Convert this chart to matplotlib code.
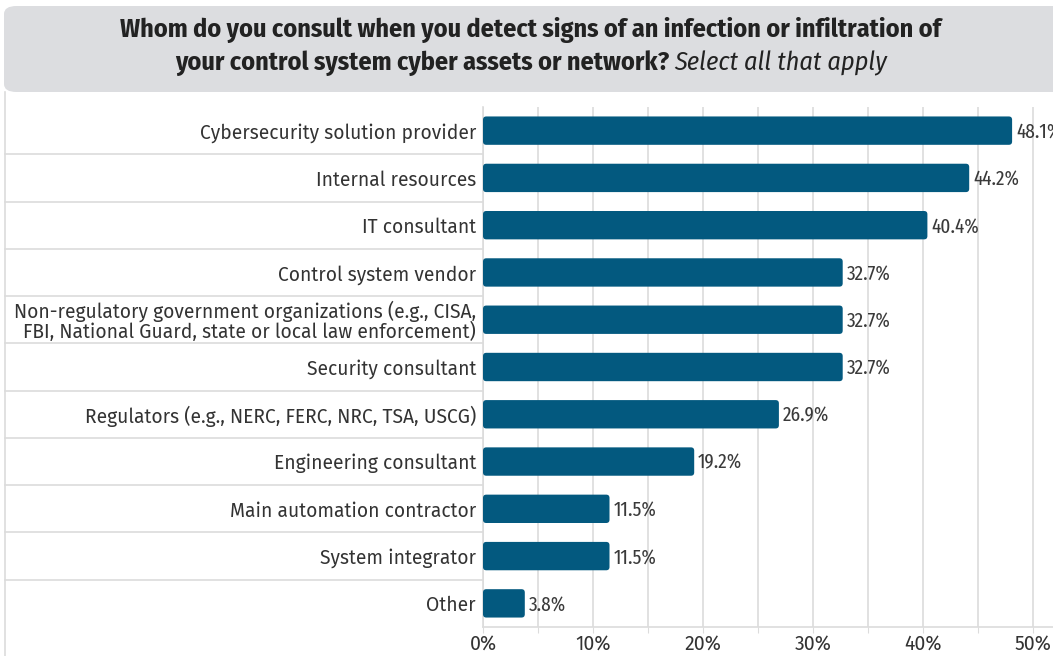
import matplotlib
matplotlib.use("Agg")
import matplotlib.pyplot as plt
from matplotlib.patches import FancyBboxPatch
from matplotlib.transforms import blended_transform_factory

# data (percent of respondents)
categories = [
    "Cybersecurity solution provider",
    "Internal resources",
    "IT consultant",
    "Control system vendor",
    "Non-regulatory government organizations (e.g., CISA,\nFBI, National Guard, state or local law enforcement)",
    "Security consultant",
    "Regulators (e.g., NERC, FERC, NRC, TSA, USCG)",
    "Engineering consultant",
    "Main automation contractor",
    "System integrator",
    "Other",
]
values = [48.1, 44.2, 40.4, 32.7, 32.7, 32.7, 26.9, 19.2, 11.5, 11.5, 3.8]
tick_labels = ["0%", "10%", "20%", "30%", "40%", "50%"]

title_line1 = "Whom do you consult when you detect signs of an infection or infiltration of"
title_line2a = "your control system cyber assets or network? "
title_line2b = "Select all that apply"

BAR = "#03597f"
TEXT = "#333333"
GRID = "#dcdcdc"
W, H = 1053, 656

TITLE_FONT = ["Fira Sans Condensed", "DejaVu Sans"]
LABEL_FONT = ["Fira Sans", "DejaVu Sans"]
VALUE_FONT = ["Fira Sans Extra Condensed", "Fira Sans Condensed", "DejaVu Sans"]

fig = plt.figure(figsize=(W / 100, H / 100), dpi=100)
fig.patch.set_facecolor("white")

# grey title band
band = FancyBboxPatch((4 / W, (H - 92) / H), 1.2, 86 / H,
                      boxstyle="round,pad=0,rounding_size=0.012",
                      transform=fig.transFigure, facecolor="#dcdde0",
                      edgecolor="none", zorder=0)
fig.patches.append(band)
# left panel border
fig.add_artist(plt.Line2D([4.5 / W, 4.5 / W], [0, (H - 92) / H],
                          transform=fig.transFigure, color=GRID, lw=1.2))

TS = 18.8
fig.text(531 / W, 1 - 30 / H, title_line1, ha="center", va="center",
         fontsize=TS, fontweight="bold", color="#222222", family=TITLE_FONT)
t_a = fig.text(0, 1 - 63 / H, title_line2a, ha="left", va="center",
               fontsize=TS, fontweight="bold", color="#222222", family=TITLE_FONT)
t_b = fig.text(0, 1 - 63 / H, title_line2b, ha="left", va="center",
               fontsize=TS, style="italic", color="#222222", family=TITLE_FONT)
r = fig.canvas.get_renderer()
wa = t_a.get_window_extent(r).width
wb = t_b.get_window_extent(r).width
x0 = 531 - (wa + wb) / 2
t_a.set_x(x0 / W)
t_b.set_x((x0 + wa) / W)

# plot area: x=0 at px 483, 11 px per percent
left, right = 483, 1053
top, bottom = 107, 627
ax = fig.add_axes([left / W, (H - bottom) / H, (right - left) / W, (bottom - top) / H])
ax.set_xlim(0, (right - left) / 11)
n = len(categories)
ax.set_ylim(n - 0.5, -0.5)

ypos = list(range(n))
bars = ax.barh(ypos, values, height=0.6, color=BAR, zorder=3)
# swap the square bars for rounded ones (radius ~3 px)
row_px = (bottom - top) / n
for b in bars:
    b.set_visible(False)
    ax.add_patch(FancyBboxPatch((b.get_x(), b.get_y()), b.get_width(), b.get_height(),
                                boxstyle="round,pad=0,rounding_size=0.3",
                                mutation_aspect=11 / row_px,
                                facecolor=BAR, edgecolor="none", zorder=3))
for y, v in zip(ypos, values):
    ax.text(v + 0.35, y + 0.03, f"{v:.1f}%", ha="left", va="center", fontsize=15,
            color="#3a3a3a", family=VALUE_FONT, zorder=4)

ax.set_xticks([i * 5 for i in range(11)])
ax.set_xticklabels(["" if i % 2 else tick_labels[i // 2] for i in range(11)],
                   fontsize=14, color=TEXT, family=LABEL_FONT)
ax.xaxis.grid(True, color=GRID, lw=1.2, zorder=0)
ax.tick_params(axis="x", length=4, color=GRID, pad=1)
ax.set_yticks(ypos)
ax.set_yticklabels(categories, fontsize=13.9, color=TEXT, family=LABEL_FONT,
                   multialignment="right", linespacing=0.95)
ax.tick_params(axis="y", length=0, pad=5)
for s in ["top", "right"]:
    ax.spines[s].set_visible(False)
for s in ["left", "bottom"]:
    ax.spines[s].set_color(GRID)
    ax.spines[s].set_linewidth(1.2)

# row separators across the label area
tr = blended_transform_factory(fig.transFigure, ax.transData)
for k in range(n - 1):
    ax.plot([5 / W, left / W], [k + 0.5, k + 0.5], transform=tr,
            color=GRID, lw=1.2, clip_on=False)

fig.savefig("out.png", dpi=100)
